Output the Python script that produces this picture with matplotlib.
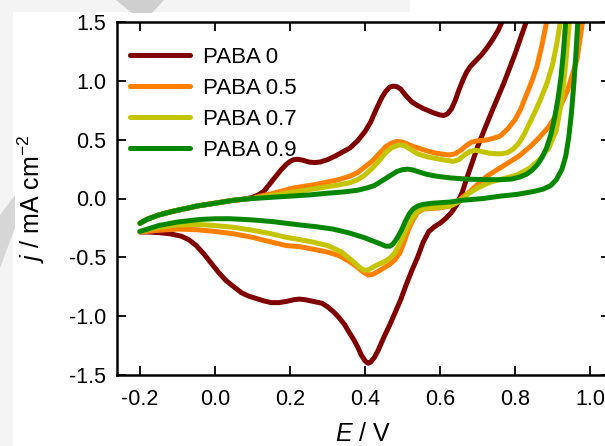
import numpy as np
import matplotlib
matplotlib.use("Agg")
import matplotlib.pyplot as plt
from matplotlib.patches import Polygon, Rectangle

plt.rcParams['font.family'] = ['Liberation Sans', 'DejaVu Sans']
plt.rcParams['mathtext.fontset'] = 'custom'
plt.rcParams['mathtext.rm'] = 'Liberation Sans'
plt.rcParams['mathtext.it'] = 'Liberation Sans:italic'

labels = ["PABA 0", "PABA 0.5", "PABA 0.7", "PABA 0.9"]
colors = ["#800000", "#FF8000", "#C4C400", "#078700"]

# common start of the anodic scan
E_start = [-0.20, -0.18, -0.15, -0.12, -0.10, -0.07, -0.05, -0.02, 0.00, 0.03, 0.05, 0.08, 0.10]
j_start = [-0.21, -0.175, -0.14, -0.115, -0.10, -0.08, -0.065, -0.05, -0.04, -0.025, -0.015, -0.005, 0.0]

# PABA 0
E0_fwd = E_start + [0.115, 0.13, 0.145, 0.16, 0.175, 0.19, 0.20, 0.21, 0.22, 0.235, 0.25, 0.265,
                    0.28, 0.30, 0.32, 0.34, 0.36, 0.38, 0.40, 0.415, 0.43, 0.445, 0.455, 0.465,
                    0.475, 0.485, 0.495, 0.51, 0.525, 0.54, 0.555, 0.57, 0.585, 0.60, 0.61, 0.62,
                    0.63, 0.64, 0.65, 0.66, 0.67, 0.68, 0.695, 0.71, 0.725, 0.74, 0.755, 0.772]
j0_fwd = j_start[:-1] + [0.01, 0.03, 0.06, 0.12, 0.18, 0.24, 0.29, 0.315, 0.33, 0.333, 0.325,
                         0.31, 0.305, 0.31, 0.33, 0.36, 0.395, 0.43, 0.49, 0.57, 0.65, 0.76, 0.86,
                         0.91, 0.945, 0.955, 0.95, 0.93, 0.87, 0.82, 0.79, 0.765, 0.745, 0.725,
                         0.71, 0.705, 0.72, 0.76, 0.83, 0.92, 1.00, 1.07, 1.12, 1.17, 1.22, 1.28,
                         1.35, 1.43, 1.55]
E0_rev = [0.835, 0.80, 0.77, 0.742, 0.72, 0.70, 0.685, 0.672, 0.66, 0.645, 0.63, 0.615, 0.60,
          0.585, 0.57, 0.555, 0.54, 0.525, 0.51, 0.495, 0.48, 0.465, 0.45, 0.435, 0.425, 0.415,
          0.408, 0.40, 0.39, 0.38, 0.37, 0.36, 0.345, 0.33, 0.315, 0.30, 0.285, 0.27, 0.255,
          0.24, 0.225, 0.21, 0.19, 0.17, 0.15, 0.13, 0.11, 0.09, 0.07, 0.05, 0.03, 0.01, -0.01,
          -0.03, -0.05, -0.07, -0.09, -0.12, -0.15, -0.18, -0.20]
j0_rev = [1.55, 1.23, 0.98, 0.77, 0.60, 0.44, 0.30, 0.18, 0.06, -0.05, -0.12, -0.17, -0.21,
          -0.24, -0.28, -0.37, -0.50, -0.61, -0.73, -0.86, -0.97, -1.08, -1.18, -1.29, -1.35,
          -1.39, -1.40, -1.38, -1.33, -1.26, -1.20, -1.15, -1.07, -1.01, -0.96, -0.92, -0.89,
          -0.88, -0.87, -0.86, -0.855, -0.86, -0.875, -0.885, -0.885, -0.87, -0.85, -0.83, -0.80,
          -0.75, -0.70, -0.63, -0.55, -0.47, -0.40, -0.35, -0.32, -0.30, -0.29, -0.285, -0.285]

# PABA 0.5
E5_fwd = E_start + [0.12, 0.15, 0.18, 0.21, 0.24, 0.27, 0.30, 0.33, 0.36, 0.38, 0.40, 0.42,
                    0.44, 0.455, 0.47, 0.485, 0.50, 0.515, 0.53, 0.55, 0.57, 0.59, 0.61, 0.625,
                    0.64, 0.655, 0.67, 0.685, 0.70, 0.72, 0.74, 0.76, 0.78, 0.80, 0.815, 0.83,
                    0.845, 0.858, 0.872, 0.887]
j5_fwd = j_start + [0.02, 0.04, 0.065, 0.09, 0.105, 0.12, 0.14, 0.16, 0.19, 0.22, 0.27, 0.32,
                    0.39, 0.44, 0.47, 0.485, 0.48, 0.46, 0.44, 0.42, 0.40, 0.385, 0.375, 0.37,
                    0.38, 0.41, 0.45, 0.48, 0.49, 0.495, 0.51, 0.53, 0.59, 0.67, 0.76, 0.88,
                    1.00, 1.12, 1.31, 1.55]
E5_rev = [0.982, 0.965, 0.94, 0.915, 0.89, 0.865, 0.84, 0.81, 0.78, 0.75, 0.725, 0.70, 0.68,
          0.66, 0.645, 0.625, 0.60, 0.575, 0.555, 0.54, 0.528, 0.515, 0.503, 0.493, 0.48, 0.465,
          0.45, 0.435, 0.42, 0.408, 0.395, 0.38, 0.365, 0.35, 0.33, 0.30, 0.26, 0.227, 0.19,
          0.15, 0.10, 0.05, 0.00, -0.05, -0.10, -0.15, -0.20]
j5_rev = [1.55, 1.18, 0.92, 0.74, 0.61, 0.52, 0.44, 0.36, 0.30, 0.24, 0.19, 0.12, 0.06,
          0.01, -0.03, -0.065, -0.08, -0.085, -0.09, -0.12, -0.18, -0.27, -0.38, -0.46, -0.52,
          -0.56, -0.59, -0.62, -0.645, -0.65, -0.625, -0.585, -0.55, -0.52, -0.485, -0.455,
          -0.43, -0.41, -0.40, -0.37, -0.33, -0.30, -0.28, -0.265, -0.26, -0.27, -0.285]

# PABA 0.7
E7_fwd = E_start + [0.12, 0.15, 0.18, 0.21, 0.24, 0.27, 0.30, 0.33, 0.36, 0.38, 0.40, 0.42,
                    0.44, 0.455, 0.47, 0.49, 0.505, 0.52, 0.54, 0.565, 0.59, 0.615, 0.635, 0.65,
                    0.665, 0.68, 0.695, 0.71, 0.73, 0.75, 0.765, 0.78, 0.795, 0.81, 0.825, 0.84,
                    0.855, 0.87, 0.885, 0.90, 0.912, 0.923]
j7_fwd = j_start + [0.01, 0.025, 0.04, 0.055, 0.07, 0.085, 0.10, 0.115, 0.135, 0.16, 0.20,
                    0.26, 0.33, 0.39, 0.43, 0.455, 0.45, 0.42, 0.38, 0.355, 0.34, 0.325, 0.315,
                    0.33, 0.37, 0.40, 0.41, 0.40, 0.385, 0.38, 0.38, 0.39, 0.42, 0.47, 0.55,
                    0.65, 0.75, 0.86, 0.98, 1.14, 1.33, 1.55]
E7_rev = [0.946, 0.935, 0.925, 0.91, 0.89, 0.865, 0.84, 0.805, 0.77, 0.735, 0.70, 0.675, 0.655,
          0.63, 0.60, 0.575, 0.555, 0.54, 0.525, 0.51, 0.495, 0.48, 0.465, 0.45, 0.435, 0.42,
          0.41, 0.398, 0.385, 0.37, 0.355, 0.335, 0.30, 0.26, 0.227, 0.19, 0.15, 0.10, 0.05,
          0.00, -0.05, -0.10, -0.15, -0.20]
j7_rev = [1.55, 1.15, 0.85, 0.58, 0.43, 0.33, 0.26, 0.20, 0.17, 0.14, 0.09, 0.04, -0.02,
          -0.06, -0.075, -0.08, -0.085, -0.11, -0.17, -0.26, -0.37, -0.46, -0.51, -0.54, -0.56,
          -0.585, -0.605, -0.61, -0.585, -0.54, -0.50, -0.45, -0.40, -0.37, -0.35, -0.33, -0.30,
          -0.27, -0.245, -0.23, -0.22, -0.225, -0.245, -0.28]

# PABA 0.9
E9_fwd = E_start + [0.15, 0.20, 0.25, 0.30, 0.34, 0.38, 0.405, 0.425, 0.445, 0.465, 0.485,
                    0.50, 0.515, 0.53, 0.545, 0.565, 0.59, 0.627, 0.67, 0.72, 0.76, 0.79, 0.81,
                    0.83, 0.845, 0.86, 0.872, 0.884, 0.895, 0.905, 0.914, 0.922, 0.929, 0.936]
j9_fwd = j_start + [0.01, 0.02, 0.03, 0.045, 0.055, 0.07, 0.09, 0.11, 0.15, 0.19, 0.23, 0.245,
                    0.25, 0.24, 0.225, 0.205, 0.19, 0.175, 0.165, 0.16, 0.16, 0.165, 0.18, 0.205,
                    0.24, 0.29, 0.35, 0.43, 0.54, 0.68, 0.84, 1.02, 1.25, 1.55]
E9_rev = [0.968, 0.962, 0.956, 0.95, 0.943, 0.935, 0.925, 0.91, 0.895, 0.875, 0.85, 0.805, 0.76,
          0.715, 0.66, 0.627, 0.58, 0.555, 0.54, 0.528, 0.518, 0.508, 0.497, 0.485, 0.475,
          0.467, 0.455, 0.44, 0.42, 0.40, 0.38, 0.36, 0.315, 0.27, 0.227, 0.15, 0.09, 0.04,
          0.00, -0.04, -0.10, -0.15, -0.20]
j9_rev = [1.55, 1.22, 0.95, 0.72, 0.52, 0.36, 0.25, 0.16, 0.11, 0.08, 0.06, 0.035, 0.02,
          0.0, -0.015, -0.03, -0.04, -0.05, -0.065, -0.09, -0.13, -0.19, -0.27, -0.34, -0.385,
          -0.405, -0.405, -0.385, -0.36, -0.335, -0.315, -0.295, -0.26, -0.24, -0.225, -0.195,
          -0.18, -0.172, -0.172, -0.178, -0.20, -0.23, -0.28]

series = [
    (E0_fwd + E0_rev, j0_fwd + j0_rev),
    (E5_fwd + E5_rev, j5_fwd + j5_rev),
    (E7_fwd + E7_rev, j7_fwd + j7_rev),
    (E9_fwd + E9_rev, j9_fwd + j9_rev),
]

xticks = [-0.2, 0.0, 0.2, 0.4, 0.6, 0.8, 1.0]
yticks = [-1.5, -1.0, -0.5, 0.0, 0.5, 1.0, 1.5]

W, H = 605, 446
fig = plt.figure(figsize=(W / 100, H / 100), dpi=100)


def px(x, y):
    return (x / W, 1 - y / H)


# faint background watermark fragments
fig.patches.append(Rectangle((0, 0), 13 / W, 1, transform=fig.transFigure,
                             facecolor="#f4f4f4", edgecolor="none", zorder=0))
fig.patches.append(Rectangle(px(0, 12), 410 / W, 12 / H, transform=fig.transFigure,
                             facecolor="#f4f4f4", edgecolor="none", zorder=0))
fig.patches.append(Polygon([px(116, 0), px(164, 0), px(152, 13), px(132, 13)], closed=True,
                           transform=fig.transFigure, facecolor="#cfcfcf", edgecolor="none", zorder=0))
fig.patches.append(Polygon([px(0, 215), px(15, 195), px(15, 228), px(0, 268)], closed=True,
                           transform=fig.transFigure, facecolor="#d6d6d6", edgecolor="none", zorder=0))

ax = fig.add_axes([117 / W, 71 / H, 493 / W, 353 / H])
ax.patch.set_alpha(0)

for (E, j), lab, c in zip(series, labels, colors):
    ax.plot(E, j, color=c, lw=3.6, label=lab, solid_capstyle='round', solid_joinstyle='round')

ax.set_xlim(-0.2613, 1.053)
ax.set_ylim(-1.5, 1.5)
ax.set_xticks(xticks)
ax.set_yticks(yticks)
ax.set_xticklabels([f"{t:.1f}" for t in xticks])
ax.set_yticklabels([f"{t:.1f}" for t in yticks])
ax.tick_params(direction='in', top=True, right=True, length=6.5, width=1.3,
               labelsize=15.5, colors='black')
ax.tick_params(axis='x', pad=10)
ax.tick_params(axis='y', pad=8)
for s in ax.spines.values():
    s.set_linewidth(1.8)

fig.text(363 / W, 1 - 441 / H, r"$E$ / V", ha='center', va='baseline', fontsize=18)
fig.text(31 / W, 1 - 199 / H, r"$j$ / mA cm$^{-2}$", ha='center', va='center',
         rotation=90, fontsize=18)

leg = ax.legend(loc='upper left', bbox_to_anchor=(0.026, 0.93), frameon=False,
                fontsize=16, handlelength=2.7, handletextpad=0.6, labelspacing=0.45,
                borderpad=0, borderaxespad=0)
for h in leg.get_lines():
    h.set_linewidth(3.6)

fig.savefig("out.png", dpi=100)
